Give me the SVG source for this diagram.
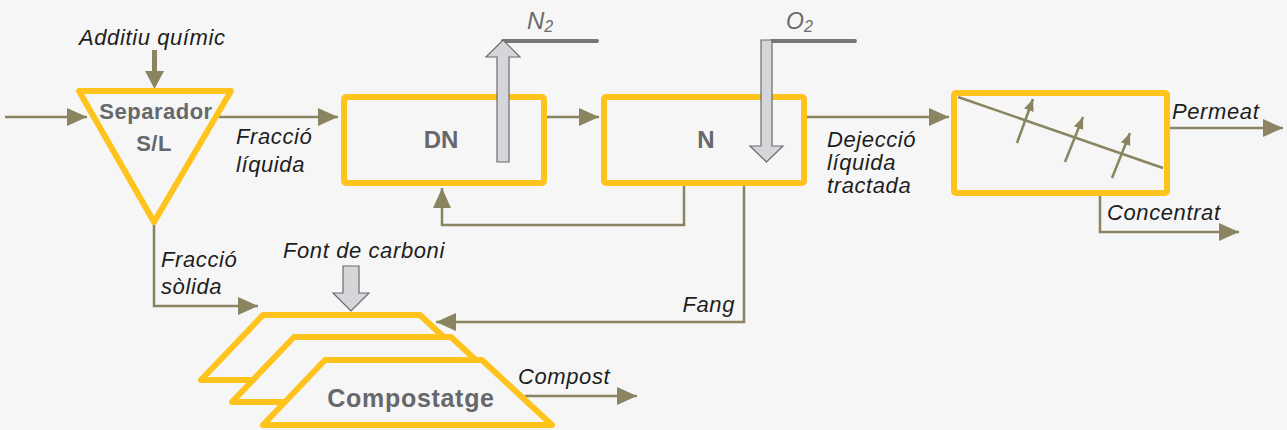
<svg xmlns="http://www.w3.org/2000/svg" width="1287" height="430" viewBox="0 0 1287 430">
<defs>
<style>
.y{fill:none;stroke:#FFC31E;stroke-width:6;stroke-linejoin:round}
.yf{fill:#f6f6f6;stroke:#FFC31E;stroke-width:6;stroke-linejoin:round}
.c{fill:none;stroke:#8a8560;stroke-width:2.5}
.g{fill:#d5d6d9;stroke:#6a6a6a;stroke-width:1.2;stroke-linejoin:miter}
.gl{fill:none;stroke:#777;stroke-width:4;stroke-linecap:round}
.b{font-family:"Liberation Sans",Arial,sans-serif;font-weight:bold;fill:#66686b;text-anchor:middle}
.i{font-family:"Liberation Sans",Arial,sans-serif;font-style:italic;font-size:22px;fill:#1e1e1e;letter-spacing:0.6px}
.gas{font-family:"Liberation Sans",Arial,sans-serif;font-style:italic;fill:#6a6a6a}
</style>
<marker id="ah" markerUnits="userSpaceOnUse" markerWidth="20" markerHeight="18" refX="20" refY="9" orient="auto">
<path d="M0,0 L20,9 L0,18 z" fill="#8a8560"/>
</marker>
<marker id="as" markerUnits="userSpaceOnUse" markerWidth="12" markerHeight="10" refX="12" refY="5" orient="auto">
<path d="M0,0 L12,5 L0,10 z" fill="#8a8560"/>
</marker>
</defs>
<rect width="1287" height="430" fill="#f6f6f6"/>

<g id="connectors">
<path class="c" d="M5,117 H87" marker-end="url(#ah)"/>
<path d="M152,50 H157 V71 H164 L154.5,89 L145,71 H152 Z" fill="#8a8560"/>
<path class="c" d="M216,117 H338" marker-end="url(#ah)"/>
<path class="c" d="M154,224 V306 H258" marker-end="url(#ah)"/>
<path class="c" d="M547,117 H599" marker-end="url(#ah)"/>
<path class="c" d="M807,117 H949" marker-end="url(#ah)"/>
<path class="c" d="M684,186 V225 H442 V188" marker-end="url(#ah)"/>
<path class="c" d="M744,186 V322 H436" marker-end="url(#ah)"/>
<path class="c" d="M1170,128 H1283" marker-end="url(#ah)"/>
<path class="c" d="M1100,196 V232 H1239" marker-end="url(#ah)"/>
<path class="c" d="M525,396 H637" marker-end="url(#ah)"/>
</g>

<g id="separador">
<polygon class="y" points="79,91 231,91 154,222"/>
<text class="b" x="156" y="119" font-size="22" letter-spacing="0.5">Separador</text>
<text class="b" x="154" y="151" font-size="22" letter-spacing="0.5">S/L</text>
</g>

<g id="dn">
<rect class="y" x="344" y="97" width="200" height="86" rx="2"/>
<text class="b" x="441" y="148" font-size="24">DN</text>
</g>

<g id="n">
<rect class="y" x="604" y="97" width="200" height="86" rx="2"/>
<text class="b" x="706" y="148" font-size="24">N</text>
</g>

<g id="n2">
<path class="gl" d="M503,41 H597"/>
<polygon class="g" points="497,162 509,162 509,57 520,57 503,40 486,57 497,57"/>
<text class="gas" x="527" y="29" font-size="24">N<tspan font-size="16" dy="3">2</tspan></text>
</g>

<g id="o2">
<path class="gl" d="M772,41 H855"/>
<polygon class="g" points="761,40 772,40 772,146 783,146 766.5,162 750,146 761,146"/>
<text class="gas" x="786" y="29" font-size="23">O<tspan font-size="16" dy="3">2</tspan></text>
</g>

<g id="membrana">
<rect class="y" x="954" y="93" width="213" height="100" rx="2"/>
<path class="c" d="M958,97 L1163,168"/>
<path class="c" d="M1017,143 L1033,99" marker-end="url(#as)"/>
<path class="c" d="M1065,162 L1083,117" marker-end="url(#as)"/>
<path class="c" d="M1112,178 L1130,133" marker-end="url(#as)"/>
</g>

<g id="font-carboni">
<polygon class="g" points="343,266 359,266 359,293 369,293 351,311 333,293 343,293"/>
</g>

<g id="compostatge">
<polygon class="yf" points="263,315 420,315 490,380 201,380"/>
<polygon class="yf" points="294,337 451,337 521,402 232,402"/>
<polygon class="yf" points="325,360 482,360 552,425 263,425"/>
<text class="b" x="411" y="407" font-size="25" letter-spacing="0.7">Compostatge</text>
</g>

<g id="labels">
<text class="i" x="79" y="45">Additiu químic</text>
<text class="i" x="236" y="144">Fracció</text>
<text class="i" x="236" y="172">líquida</text>
<text class="i" x="161" y="267">Fracció</text>
<text class="i" x="161" y="294">sòlida</text>
<text class="i" x="283" y="258">Font de carboni</text>
<text class="i" x="735" y="312" text-anchor="end">Fang</text>
<text class="i" x="518" y="384">Compost</text>
<text class="i" x="827" y="147">Dejecció</text>
<text class="i" x="827" y="170">líquida</text>
<text class="i" x="827" y="193">tractada</text>
<text class="i" x="1172" y="119">Permeat</text>
<text class="i" x="1107" y="220">Concentrat</text>
</g>
</svg>
